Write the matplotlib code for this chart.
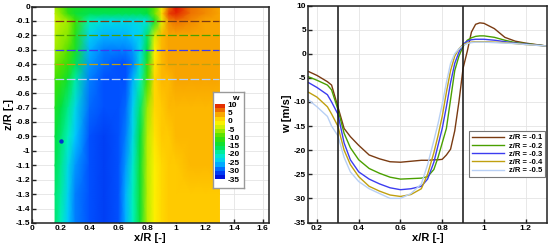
"""
Vertical velocity field and radial profiles of w at several z/R stations.
"""
import matplotlib
matplotlib.use("Agg")
import matplotlib.pyplot as plt
import numpy as np
from matplotlib.colors import LinearSegmentedColormap

plt.rcParams["font.family"] = ["Liberation Sans", "DejaVu Sans"]
plt.rcParams["axes.unicode_minus"] = False

# contour field
field_x = [0.16, 0.2, 0.25, 0.3, 0.4, 0.5, 0.6, 0.65, 0.7, 0.75, 0.8, 0.85, 0.9, 0.95, 1.0, 1.1, 1.2, 1.3]
field_z = [0.0, -0.05, -0.1, -0.2, -0.3, -0.4, -0.5, -0.7, -0.9, -1.1, -1.3, -1.5]
field_w = [
    [-6, -8, -12, -13, -14, -14, -14, -14, -14, -14, -13, -9, -2, 6, 10, 6, 5, 4],
    [-5, -7, -11, -14, -16, -16, -16, -16, -16, -16, -15, -8, 1, 8, 9, 6, 5, 4],
    [-4, -5, -6, -10, -20, -23, -23, -23, -23, -22, -22, -14, -3, 5, 6, 5, 4, 4],
    [-5, -6, -7, -12, -24, -26, -26, -26, -25, -24, -17, -4, 3, 4, 4, 4, 4, 4],
    [-6, -7, -9, -13, -26, -28, -28, -28, -27, -23, -15, -1, 3, 4, 4, 4, 4, 4],
    [-8, -9, -11, -16, -27, -29, -30, -30, -28, -22, -12, 0, 3, 4, 4, 4, 4, 4],
    [-10, -11, -14, -19, -28, -30, -30, -30, -26, -20, -10, 1, 3, 3, 4, 4, 4, 4],
    [-13, -15, -18, -23, -29, -30, -30, -29, -24, -17, -6, 1, 2, 3, 3, 3, 3, 3],
    [-15, -17, -20, -25, -30, -31, -30, -28, -23, -15, -5, 0, 2, 2, 3, 3, 3, 3],
    [-16, -18, -23, -27, -30, -31, -30, -27, -21, -14, -5, -1, 1, 2, 2, 3, 3, 3],
    [-17, -19, -24, -28, -30, -31, -30, -26, -20, -14, -5, -1, 1, 2, 2, 2, 2, 2],
    [-17, -20, -25, -28, -30, -31, -30, -26, -20, -14, -5, -1, 1, 2, 2, 2, 2, 2],
]
wake_dot_x = [0.2]
wake_dot_z = [-0.93]

cbar_ticks = [10, 5, 0, -5, -10, -15, -20, -25, -30, -35]
left_xticks = [0, 0.2, 0.4, 0.6, 0.8, 1, 1.2, 1.4, 1.6]
left_xlabels = ["0", "0.2", "0.4", "0.6", "0.8", "1", "1.2", "1.4", "1.6"]
left_zticks = [0, -0.1, -0.2, -0.3, -0.4, -0.5, -0.6, -0.7, -0.8, -0.9, -1, -1.1, -1.2, -1.3, -1.4, -1.5]
left_zlabels = ["0", "-0.1", "-0.2", "-0.3", "-0.4", "-0.5", "-0.6", "-0.7", "-0.8", "-0.9", "-1",
                "-1.1", "-1.2", "-1.3", "-1.4", "-1.5"]

# profiles
profile_x = [0.16, 0.2, 0.25, 0.27, 0.3, 0.33, 0.36, 0.4, 0.45, 0.5, 0.55, 0.6, 0.65, 0.7, 0.73, 0.76, 0.78,
             0.8, 0.82, 0.84, 0.86, 0.88, 0.9, 0.92, 0.94, 0.96, 0.98, 1.0, 1.05, 1.1, 1.15, 1.2, 1.3]
w_01 = [-3.7, -4.5, -5.8, -6.5, -11, -15.5, -17.2, -19, -21, -21.8, -22.4, -22.5, -22.3, -22.1, -22.1, -22, -22,
        -21.9, -21, -19.8, -16, -10, -3, 0.5, 4.5, 6.1, 6.4, 6.3, 5.2, 3.4, 2.6, 2.2, 1.6]
w_02 = [-4.8, -5.5, -6.5, -7.5, -11.5, -16.5, -19.5, -22, -23.8, -24.8, -25.6, -26, -25.9, -25.8, -25.5, -24, -21.5,
        -18.5, -15.5, -9.5, -3.5, -0.5, 1.5, 2.8, 3.3, 3.6, 3.7, 3.7, 3.4, 2.8, 2.3, 2.1, 1.6]
w_03 = [-6, -7, -8.5, -10, -12.5, -18.5, -22, -24.5, -26, -27, -27.8, -28.2, -28, -27.5, -26, -22.5, -19,
        -15.5, -11, -6, -2, 0.3, 2, 2.6, 2.9, 3, 3, 3, 2.8, 2.5, 2.2, 2, 1.6]
w_04 = [-8, -9, -11, -12.5, -15, -20, -23, -25.5, -27.5, -28.5, -29.3, -29.6, -29.2, -28, -25, -20.5, -17,
        -13, -8, -3.5, -0.5, 1, 1.9, 2.2, 2.4, 2.5, 2.5, 2.5, 2.4, 2.3, 2.1, 1.9, 1.6]
w_05 = [-9.6, -11, -13, -15, -17, -21.5, -24.5, -26.5, -28, -29, -30, -30, -29, -27, -23, -18, -14.5,
        -10.5, -6, -2, 0, 1, 1.7, 2.1, 2.3, 2.4, 2.4, 2.4, 2.3, 2.2, 2.1, 1.9, 1.6]
profile_labels = ["z/R = -0.1", "z/R = -0.2", "z/R = -0.3", "z/R = -0.4", "z/R = -0.5"]
profile_z = [-0.1, -0.2, -0.3, -0.4, -0.5]
profile_colors = ["#7a3b12", "#4aa000", "#3c3cf0", "#c0a010", "#b8d0f5"]
rotor_x = [0.3, 0.9]
right_xticks = [0.2, 0.4, 0.6, 0.8, 1, 1.2]
right_xlabels = ["0.2", "0.4", "0.6", "0.8", "1", "1.2"]
right_yticks = [10, 5, 0, -5, -10, -15, -20, -25, -30, -35]

W, H = 550, 248
cmap = LinearSegmentedColormap.from_list("tecplot", [
    (0.0, "#0000d0"), (0.11, "#0050ff"), (0.22, "#00c8ff"), (0.33, "#00f0c0"), (0.44, "#00e040"),
    (0.56, "#40e000"), (0.68, "#c8f000"), (0.76, "#fff000"), (0.84, "#ffc000"), (0.9, "#f08000"), (1.0, "#e01000"),
])
levels = np.linspace(-35, 10, 19)


def style_axis(ax):
    ax.grid(True, color="#e4e4e4", linewidth=0.6)
    ax.set_axisbelow(True)
    ax.tick_params(axis="both", labelsize=6, width=1, length=3, pad=1.5, direction="in", color="#222222")
    for label in ax.get_xticklabels() + ax.get_yticklabels():
        label.set_fontweight("bold")
    for spine in ax.spines.values():
        spine.set_linewidth(1.1)
        spine.set_color("#222222")


fig = plt.figure(figsize=(W / 100, H / 100), dpi=100)

# left panel
ax = fig.add_axes([32 / W, 1 - 223 / H, (268.5 - 32) / W, (223 - 6.5) / H])
ax.pcolormesh(field_x, field_z, np.array(field_w), shading="gouraud", cmap=cmap, vmin=-35, vmax=10, zorder=2)
for z, color in zip(profile_z, profile_colors):
    ax.plot([field_x[0], field_x[-1]], [z, z], color=color, linewidth=0.9, dashes=(7, 2), zorder=3)
ax.scatter(wake_dot_x, wake_dot_z, s=10, color="#0030d0", zorder=3, linewidths=0)
ax.set_xlim(0, 1.64)
ax.set_ylim(-1.5, 0)
ax.set_xticks(left_xticks, left_xlabels)
ax.set_yticks(left_zticks, left_zlabels)
ax.set_xlabel("x/R [-]", fontsize=8, fontweight="bold", labelpad=1)
ax.set_ylabel("z/R [-]", fontsize=8, fontweight="bold", labelpad=1)
style_axis(ax)

# colour legend drawn as a small inset
box = fig.add_axes([213 / W, 1 - 188 / H, 31 / W, 96 / H])
box.set_xticks([])
box.set_yticks([])
for spine in box.spines.values():
    spine.set_color("#999999")
    spine.set_linewidth(1)
box.text(0.72, 0.935, "w", transform=box.transAxes, fontsize=6, fontweight="bold", ha="center", va="center")
cax = fig.add_axes([215 / W, 1 - 179 / H, 10 / W, 75 / H])
cax.contourf([0, 1], levels, np.column_stack([levels, levels]), levels=levels, cmap=cmap)
cax.set_xticks([])
cax.yaxis.tick_right()
cax.set_yticks(cbar_ticks)
cax.tick_params(axis="y", labelsize=6, length=0, pad=2)
for label in cax.get_yticklabels():
    label.set_fontweight("bold")
for spine in cax.spines.values():
    spine.set_visible(False)

# right panel
ax2 = fig.add_axes([308 / W, 1 - 222.5 / H, (547 - 308) / W, (222.5 - 5.5) / H])
for values, label, color in zip([w_01, w_02, w_03, w_04, w_05], profile_labels, profile_colors):
    ax2.plot(profile_x, values, color=color, linewidth=1.0, label=label)
for x in rotor_x:
    ax2.axvline(x, color="#111111", linewidth=1.1)
ax2.set_xlim(0.157, 1.302)
ax2.set_ylim(-35, 10)
ax2.set_xticks(right_xticks, right_xlabels)
ax2.set_yticks(right_yticks)
ax2.set_xlabel("x/R [-]", fontsize=8, fontweight="bold", labelpad=1)
ax2.set_ylabel("w [m/s]", fontsize=8, fontweight="bold", labelpad=1)
style_axis(ax2)
legend = ax2.legend(loc="lower right", bbox_to_anchor=(545 / W, 1 - 177 / H), bbox_transform=fig.transFigure,
                    fontsize=5.5, frameon=True, fancybox=False, framealpha=1, edgecolor="#777777",
                    handlelength=4.2, labelspacing=0.12, borderpad=0.35, handletextpad=0.7, borderaxespad=0)
legend.get_frame().set_linewidth(0.8)
for text in legend.get_texts():
    text.set_fontweight("bold")

fig.savefig("out.png", dpi=100)
